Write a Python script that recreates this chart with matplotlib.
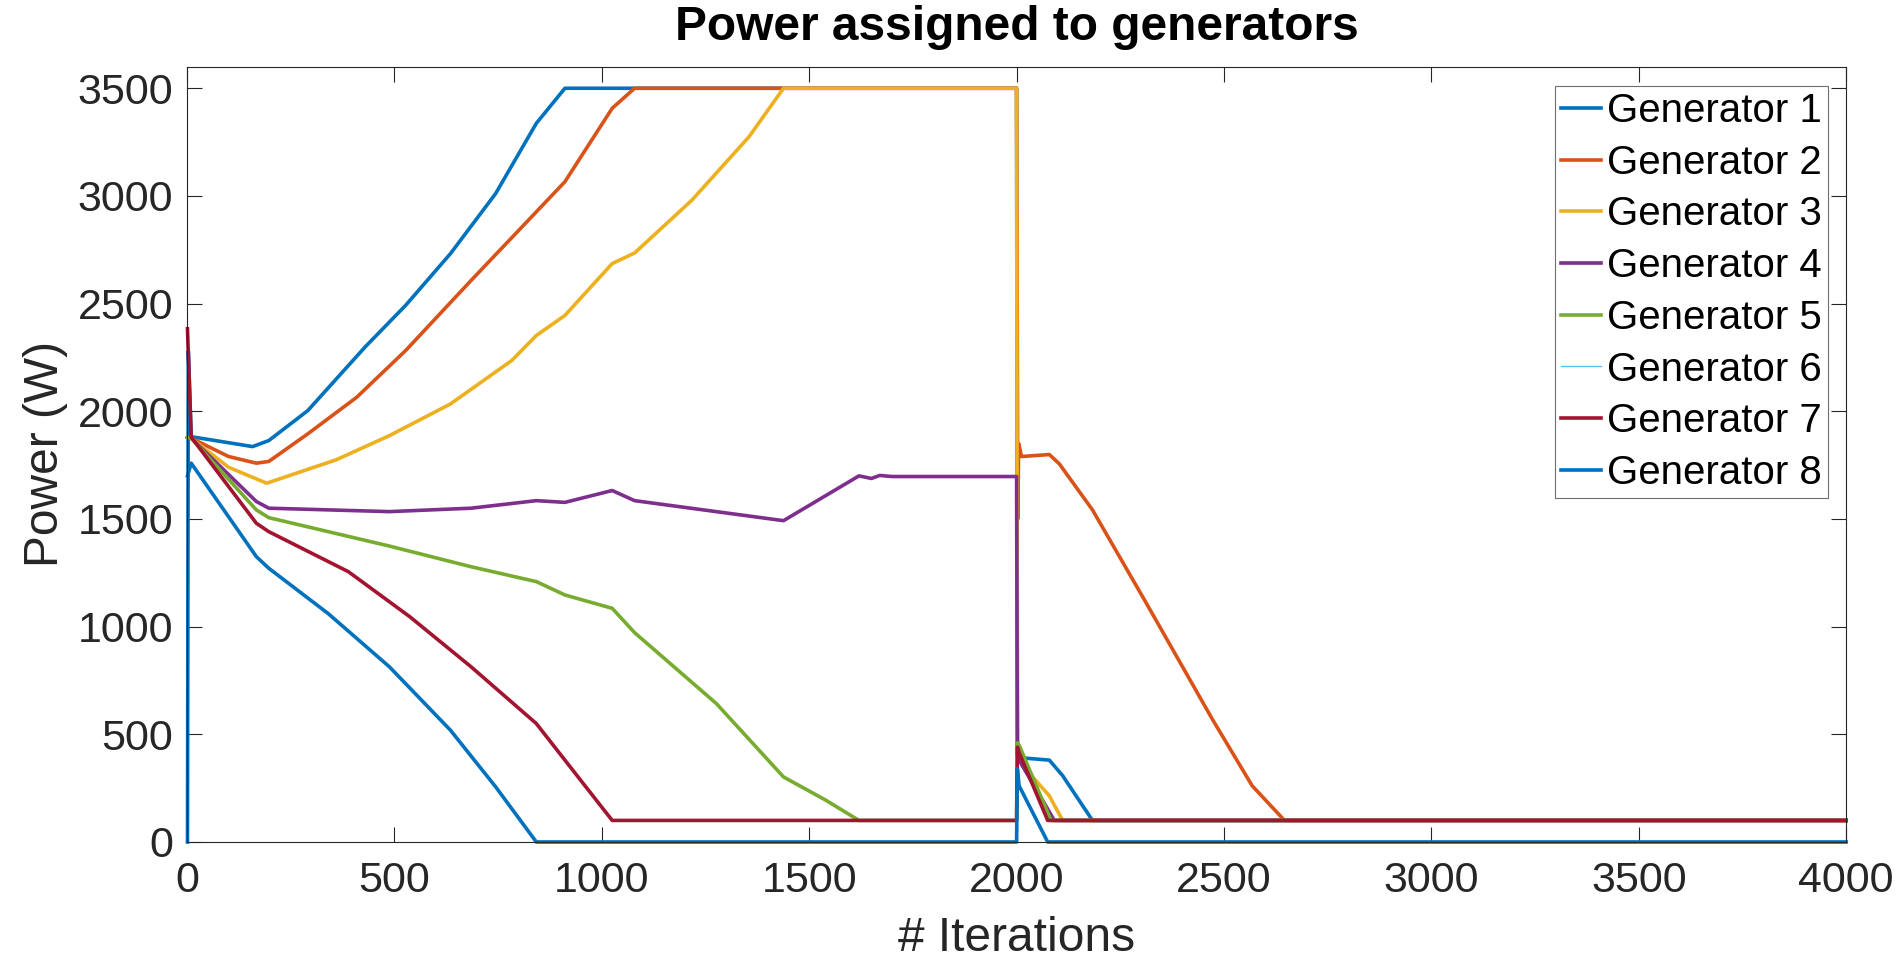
import matplotlib.pyplot as plt
import numpy as np

plt.rcParams['font.family'] = ['Liberation Sans', 'DejaVu Sans']

# iteration / power readings for each generator
it1 = [1, 3, 10, 158, 197, 291, 429, 527, 635, 744, 842, 911, 2000, 2002, 2004, 2079, 2111, 2183, 4000]
p1 = [0, 2280, 1882, 1836, 1864, 2003, 2298, 2492, 2732, 3011, 3337, 3500, 3500, 400, 392, 380, 308, 100, 100]

it2 = [1, 10, 100, 167, 197, 291, 409, 527, 685, 842, 911, 1025, 1079, 2000, 2003, 2005, 2012, 2079, 2103, 2183, 2311, 2472, 2568, 2646, 4000]
p2 = [1880, 1875, 1790, 1759, 1767, 1895, 2065, 2282, 2608, 2926, 3066, 3407, 3500, 3500, 1500, 1850, 1790, 1799, 1756, 1542, 1115, 570, 261, 100, 100]

it3 = [1, 10, 100, 192, 360, 488, 635, 783, 842, 911, 1025, 1079, 1217, 1355, 1438, 2000, 2002, 2004, 2014, 2079, 2111, 4000]
p3 = [1880, 1875, 1740, 1666, 1775, 1887, 2034, 2236, 2352, 2445, 2686, 2735, 2980, 3275, 3500, 3500, 420, 400, 356, 214, 100, 100]

it4 = [1, 10, 167, 197, 488, 685, 842, 911, 1025, 1079, 1438, 1620, 1650, 1670, 1700, 2000, 2002, 2006, 2091, 4000]
p4 = [1880, 1875, 1581, 1550, 1534, 1550, 1585, 1577, 1632, 1585, 1492, 1700, 1688, 1702, 1697, 1697, 400, 380, 100, 100]

it5 = [1, 10, 167, 197, 488, 685, 842, 911, 1025, 1079, 1276, 1438, 1540, 1620, 2000, 2002, 2006, 2083, 4000]
p5 = [1880, 1875, 1542, 1506, 1374, 1278, 1209, 1147, 1085, 972, 643, 302, 194, 100, 100, 460, 450, 100, 100]

it6 = [1, 10, 167, 197, 389, 537, 685, 842, 911, 1025, 2000, 2002, 2006, 2075, 4000]
p6 = [2383, 1880, 1480, 1441, 1255, 1046, 813, 550, 380, 100, 100, 440, 415, 100, 100]

it7 = [1, 10, 167, 197, 389, 537, 685, 842, 911, 1025, 2000, 2002, 2006, 2075, 4000]
p7 = [2383, 1880, 1480, 1441, 1255, 1046, 813, 550, 380, 100, 100, 440, 415, 100, 100]

it8 = [1, 10, 167, 197, 340, 488, 635, 744, 842, 2000, 2002, 2006, 2075, 4000]
p8 = [1700, 1759, 1325, 1271, 1061, 813, 519, 256, 0, 0, 340, 261, 0, 0]

labels = ['Generator 1', 'Generator 2', 'Generator 3', 'Generator 4',
          'Generator 5', 'Generator 6', 'Generator 7', 'Generator 8']
colors = ['#0072BD', '#D95319', '#EDB120', '#7E2F8E', '#77AC30', '#4DBEEE', '#A2142F', '#0072BD']

fig = plt.figure(figsize=(19.03, 9.67), dpi=100)
ax = fig.add_axes([0.0983, 0.1293, 0.8718, 0.8017])

series = [(it1, p1), (it2, p2), (it3, p3), (it4, p4), (it5, p5), (it6, p6), (it7, p7), (it8, p8)]
for i, (x, y) in enumerate(series):
    lw = 0.9 if i == 5 else 2.6
    ax.plot(x, y, color=colors[i], lw=lw, label=labels[i], clip_on=False, solid_joinstyle='round')

ax.set_xlim(0, 4000)
ax.set_ylim(0, 3600)
ax.set_xticks(np.arange(0, 4001, 500))
ax.set_yticks(np.arange(0, 3501, 500))

grey = '#262626'
for s in ax.spines.values():
    s.set_color(grey)
    s.set_linewidth(0.8)
ax.tick_params(direction='in', length=11, width=0.8, colors=grey, labelsize=31,
               top=True, right=True)
ax.tick_params(axis='x', pad=14)
ax.tick_params(axis='y', pad=10)

ax.set_title('Power assigned to generators', fontsize=34.5, fontweight='bold', pad=19)
ax.set_xlabel('# Iterations', fontsize=34.5, color=grey)
ax.set_ylabel('Power (W)', fontsize=34.5, color=grey)
ax.xaxis.set_label_coords(0.5, -0.125)
ax.xaxis.label.set_va('center')
ax.yaxis.set_label_coords(-0.0856, 0.5)
ax.yaxis.label.set_va('center')

leg = ax.legend(loc='upper right', bbox_to_anchor=(0.9892, 0.9751), borderaxespad=0,
                fontsize=29, fancybox=False, framealpha=1, edgecolor='#6e6e6e',
                handlelength=1.0, handletextpad=0.16, labelspacing=0.34, borderpad=0.15)
leg.get_frame().set_linewidth(0.8)

plt.savefig('out.png', dpi=100)
